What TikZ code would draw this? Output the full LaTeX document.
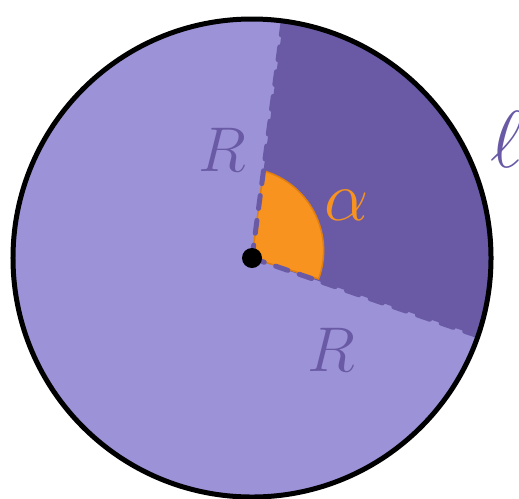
\documentclass[tikz,border=0pt]{standalone}
\usepackage{fix-cm}
\definecolor{lightlilac}{HTML}{9C92D7}
\definecolor{darklilac}{HTML}{6A5AA5}
\definecolor{anglefill}{HTML}{F7931E}
\definecolor{angleedge}{HTML}{E07F10}

\begin{document}
\begin{tikzpicture}[
    x=0.02cm,
    y=0.02cm,
    rim/.style={
        draw=black,
        line width=0.1cm
    },
    radiusline/.style={
        draw=darklilac,
        line width=0.1cm,
        dash pattern=on 0.26cm off 0.24cm,
        line cap=round
    },
    lbl/.style={
        text=darklilac,
        inner sep=0pt,
        font=\fontsize{36}{40}\selectfont
    },
    anglelbl/.style={
        text=anglefill,
        inner sep=0pt,
        font=\fontsize{40}{46}\selectfont
    }
]
\useasboundingbox (-252,-240) rectangle (267,258);

\coordinate (O) at (0,0);
\coordinate (top) at (82.5:239);
\coordinate (low) at (-19:239);

\fill[lightlilac] (O) circle[radius=239];
\fill[darklilac] (O) -- (low) arc[start angle=-19, end angle=82.5, radius=239] -- cycle;
\filldraw[fill=anglefill, draw=angleedge, line width=0.03cm]
    (O) -- (82.5:88) arc[start angle=74, end angle=-20, radius=83] -- cycle;

\draw[radiusline] (O) -- (top);
\draw[radiusline] (O) -- (low);
\draw[rim] (O) circle[radius=239];
\fill[black] (O) circle[radius=10];

\node[lbl] (r1) at (-30,108) {$R$};
\node[lbl] (r2) at (79,-92) {$R$};
\node[anglelbl] (alpha) at (95,53) {$\alpha$};
\node[lbl, font=\fontsize{46}{50}\selectfont] (arclen) at (255,119) {$\ell$};

\end{tikzpicture}
\end{document}
